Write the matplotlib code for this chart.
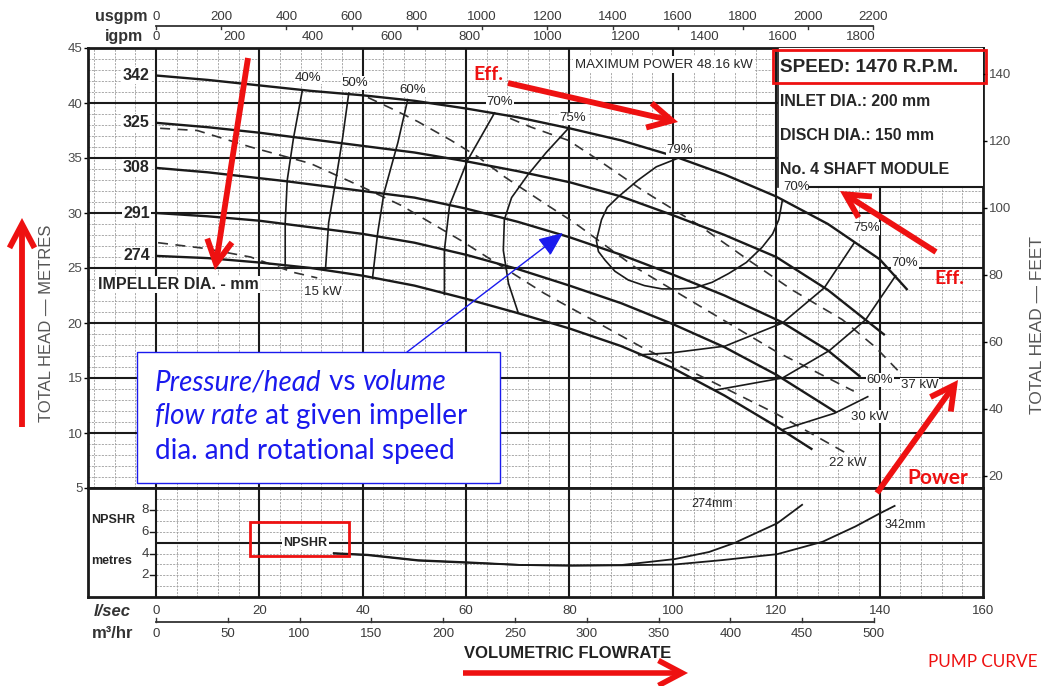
import matplotlib
matplotlib.use("Agg")
import matplotlib.pyplot as plt
from matplotlib.patches import Rectangle, FancyArrowPatch
from matplotlib.transforms import blended_transform_factory

plt.rcParams['font.family'] = ['Liberation Sans', 'DejaVu Sans']

W, H, DPI = 1051, 686, 100

# ---------------- data ----------------
# Head (m) against flow (l/s) for each impeller diameter (mm)
flow_342 = [0, 10, 20, 30, 40, 50, 60, 70, 80, 90, 100, 110, 120, 130, 140, 145.4]
head_342 = [42.5, 42.1, 41.6, 41.1, 40.7, 40.2, 39.5, 38.7, 37.7, 36.6, 35.2, 33.5, 31.5, 29.0, 25.8, 23.0]
flow_325 = [0, 10, 20, 30, 40, 50, 60, 70, 80, 90, 100, 110, 120, 130, 141]
head_325 = [38.2, 37.8, 37.3, 36.7, 36.1, 35.5, 34.7, 33.8, 32.8, 31.5, 29.8, 28.0, 26.0, 23.0, 18.9]
flow_308 = [0, 10, 25, 40, 50, 60, 70, 80, 90, 100, 110, 121, 130, 136.3]
head_308 = [34.1, 33.7, 32.9, 32.0, 31.4, 30.4, 29.2, 27.8, 26.2, 24.4, 22.5, 20.1, 17.5, 15.1]
flow_291 = [0, 10, 20, 30, 40, 50, 60, 70, 80, 90, 100, 110, 120, 131.5]
head_291 = [30.0, 29.7, 29.3, 28.7, 28.1, 27.3, 26.2, 24.9, 23.4, 21.8, 19.9, 17.8, 15.3, 11.9]
flow_274 = [0, 10, 20, 30, 40, 50, 60, 70, 80, 90, 100, 110, 120, 127]
head_274 = [26.1, 25.9, 25.5, 25.0, 24.3, 23.4, 22.2, 20.9, 19.5, 17.9, 15.9, 13.4, 10.6, 8.5]
impellers = ["342", "325", "308", "291", "274"]

# Efficiency contours (flow l/s, head m)
eff40_q = [28.3, 26.6, 25.4, 25.0, 25.0]
eff40_h = [41.1, 36.8, 33.0, 29.1, 25.2]
eff50_q = [37.3, 36.1, 34.8, 33.4, 32.8]
eff50_h = [40.9, 36.8, 33.0, 29.1, 24.9]
eff60_q = [48.7, 46.8, 44.1, 42.9, 41.9]
eff60_h = [40.3, 36.4, 31.8, 28.2, 24.1]
eff70_q = [65.5, 60.3, 56.8, 55.8, 55.8]
eff70_h = [39.1, 34.8, 30.7, 26.6, 22.6]
eff75_q = [79.8, 75.5, 72.0, 68.8, 67.4, 67.2, 68.2, 70.1]
eff75_h = [37.7, 35.5, 33.5, 31.4, 29.4, 26.6, 23.6, 20.9]
eff79_q = [101.1, 96.8, 93.3, 89.5, 87.3, 86.2, 85.2, 85.6, 86.9, 88.8, 91.4, 94.5, 97.9,
           101.2, 104.3, 107.6, 110.8, 114.2, 117.3, 119.3, 120.5, 121.2]
eff79_h = [35.0, 34.2, 33.0, 31.5, 30.5, 29.4, 27.5, 26.5, 25.7, 24.7, 23.9, 23.4, 23.1,
           23.1, 23.2, 23.7, 24.5, 25.5, 26.9, 28.1, 29.4, 31.2]
eff75r_q = [135.1, 129.3, 121.2, 110.1, 100.0, 93.4]
eff75r_h = [27.3, 23.2, 20.0, 17.9, 17.3, 17.1]
eff70r_q = [143.1, 137.3, 130.3, 121.2, 108.2]
eff70r_h = [24.3, 20.3, 17.5, 15.0, 13.9]
eff60r_q = [137.7, 131.3, 121.2]
eff60r_h = [13.3, 11.8, 10.3]

# Constant absorbed-power lines (kW)
kw15_q = [0.4, 9.1, 18.3, 26.6, 31.2]
kw15_h = [27.3, 26.8, 26.0, 24.6, 24.1]
kw22_q = [0.8, 8, 18.3, 29.9, 40.2, 47.4, 59, 75.1, 94, 107, 119.8, 133.4]
kw22_h = [37.7, 37.5, 36.0, 34.5, 32.3, 30.7, 27.5, 22.7, 17.8, 14.8, 11.8, 8.2]
kw30_q = [41, 46, 50.7, 57.1, 62.3, 67.4, 75.1, 81, 86.2, 92.6, 105, 120, 135]
kw30_h = [40.5, 39.4, 38.3, 36.6, 35.1, 33.3, 30.9, 29.1, 27.3, 25.1, 21.6, 17.4, 13.8]
kw37_q = [68.5, 72.6, 79.8, 85, 94, 105, 115, 123.1, 132.8, 139.2, 144.1]
kw37_h = [38.6, 37.8, 36.6, 35.0, 32.1, 28.9, 25.6, 23.0, 20.3, 17.8, 15.4]

# NPSHR (m) against flow (l/s)
npshr274_q = [34.4, 41, 50.7, 60.4, 70.7, 80.4, 90.1, 100.4, 107, 112, 120.2, 125]
npshr274_v = [4.05, 3.9, 3.4, 3.2, 2.95, 2.9, 2.95, 3.5, 4.15, 5.0, 6.8, 8.5]
npshr342_q = [34.4, 41, 50.7, 60.4, 70.7, 80.4, 90.1, 100.4, 109.5, 120.2, 129, 135.3, 140, 142.9]
npshr342_v = [4.0, 3.85, 3.35, 3.15, 2.95, 2.9, 2.92, 3.0, 3.4, 3.95, 5.1, 6.5, 7.7, 8.4]

# Scales
ls_ticks = [0, 20, 40, 60, 80, 100, 120, 140, 160]
usgpm_ticks = [0, 200, 400, 600, 800, 1000, 1200, 1400, 1600, 1800, 2000, 2200]
igpm_ticks = [0, 200, 400, 600, 800, 1000, 1200, 1400, 1600, 1800]
m3h_ticks = [0, 50, 100, 150, 200, 250, 300, 350, 400, 450, 500]
head_m_ticks = [5, 10, 15, 20, 25, 30, 35, 40, 45]
head_ft_ticks = [20, 40, 60, 80, 100, 120, 140]
npshr_ticks = [2, 4, 6, 8]
LS_PER_USGPM = 1 / 15.850
LS_PER_IGPM = 1 / 13.198
LS_PER_M3H = 1 / 3.6
FT_PER_M = 1 / 0.3048

INK = '#1a1a1a'
GRID_MINOR = '#9c9c9c'
TXT = '#262626'
TICK = '#3a3a3a'
TFS = 9.5

fig = plt.figure(figsize=(W / DPI, H / DPI), dpi=DPI)
fig.patch.set_facecolor('white')


def fx(px):
    return px / W


def fy(py):
    return 1 - py / H


X0, X1 = 88, 983
Y_TOP, Y_MID, Y_BOT = 48, 488, 597
Q0, Q1 = -13.15, 160

ax = fig.add_axes([fx(X0), fy(Y_MID), (X1 - X0) / W, (Y_MID - Y_TOP) / H])
axn = fig.add_axes([fx(X0), fy(Y_BOT), (X1 - X0) / W, (Y_BOT - Y_MID) / H])
ax.set_xlim(Q0, Q1)
ax.set_ylim(5, 45)
axn.set_xlim(Q0, Q1)
axn.set_ylim(0, 10.05)

for a in (ax, axn):
    for s in a.spines.values():
        s.set_linewidth(2.0)
        s.set_color(INK)
    a.set_facecolor('white')

DASH = (0, (2.5, 1.5))
# ---- head panel grid ----
minor_q = [q for q in range(-12, 160, 4) if q % 20 != 0]
ax.vlines(minor_q, 5, 45, colors=GRID_MINOR, lw=0.6, linestyles=DASH, zorder=1)
ax.vlines(ls_ticks[:-1], 5, 45, colors=INK, lw=1.5, zorder=1.5)
ax.hlines([h for h in range(6, 45) if h % 5], Q0, Q1, colors=GRID_MINOR, lw=0.6,
          linestyles=DASH, zorder=1)
ax.hlines(head_m_ticks[1:-1], Q0, Q1, colors=INK, lw=1.5, zorder=1.5)

# ---- NPSHR panel grid ----
axn.vlines([q for q in range(4, 160, 4) if q % 20 != 0], 0, 10.05, colors=GRID_MINOR, lw=0.6,
           linestyles=DASH, zorder=1)
axn.vlines(ls_ticks[:-1], 0, 10.05, colors=INK, lw=1.5, zorder=1.5)
axn.hlines([1, 2, 3, 4, 6, 7, 8, 9], 0, 160, colors=GRID_MINOR, lw=0.6,
           linestyles=DASH, zorder=1)
axn.hlines([5], 0, 160, colors=INK, lw=1.5, zorder=1.5)

# ---- head curves ----
curves = [(flow_342, head_342), (flow_325, head_325), (flow_308, head_308),
          (flow_291, head_291), (flow_274, head_274)]
for q, h in curves:
    ax.plot(q, h, color=INK, lw=1.7, zorder=4, solid_capstyle='butt')

for q, h in [(eff40_q, eff40_h), (eff50_q, eff50_h), (eff60_q, eff60_h), (eff70_q, eff70_h),
             (eff75_q, eff75_h), (eff79_q, eff79_h), (eff75r_q, eff75r_h),
             (eff70r_q, eff70r_h), (eff60r_q, eff60r_h)]:
    ax.plot(q, h, color=INK, lw=1.2, zorder=3.5)

for q, h in [(kw15_q, kw15_h), (kw22_q, kw22_h), (kw30_q, kw30_h), (kw37_q, kw37_h)]:
    ax.plot(q, h, color='#333333', lw=1.2, ls=(0, (6, 4.5)), zorder=3)

# impeller diameter labels at the start of each curve
white = dict(facecolor='white', edgecolor='none', pad=1.0)
for name, (q, h) in zip(impellers, curves):
    ax.text(-1.2, h[0], name, ha='right', va='center', fontsize=11.5, fontweight='bold',
            color=TXT, bbox=white, zorder=6)
ax.text(-11.3, 23.5, "IMPELLER DIA. - mm", ha='left', va='center', fontsize=11.5,
        fontweight='bold', color=TXT, bbox=white, zorder=6)

small = dict(fontsize=9.5, color=TXT, ha='center', va='center', zorder=6)
for txt, q, h in [("40%", 29.4, 42.3), ("50%", 38.5, 41.8), ("60%", 49.7, 41.2),
                  ("70%", 66.5, 40.1), ("75%", 80.7, 38.6), ("79%", 101.4, 35.7),
                  ("75%", 137.4, 28.6), ("70%", 144.9, 25.5), ("60%", 140.1, 14.8),
                  ("37 kW", 147.8, 14.4), ("30 kW", 138.1, 11.5), ("22 kW", 133.9, 7.3),
                  ("15 kW", 32.3, 22.8)]:
    ax.text(q, h, txt, bbox=dict(facecolor='white', edgecolor='none', pad=0.6), **small)

ax.text(81.1, 43.5, "MAXIMUM POWER 48.16 kW", ha='left', va='center', fontsize=9.5,
        color=TXT, bbox=dict(facecolor='white', edgecolor='none', pad=1.5), zorder=6)

# data sheet box in the upper right
ax.add_patch(Rectangle((120.3, 32.4), Q1 - 120.3, 45 - 32.4, facecolor='white',
                       edgecolor='none', zorder=5))
ax.plot([120.3, 120.3], [32.4, 45], color=INK, lw=1.2, zorder=5.5)
ax.plot([126.5, Q1], [32.4, 32.4], color=INK, lw=1.5, zorder=5.5)
ax.text(124.0, 32.4, "70%", **small)
for txt, py, fs in [("SPEED: 1470 R.P.M.", 68, 13.6), ("INLET DIA.: 200 mm", 101, 11.4),
                    ("DISCH DIA.: 150 mm", 136, 11.4), ("No. 4 SHAFT MODULE", 170, 11.4)]:
    ax.text(fx(780), fy(py), txt, transform=fig.transFigure, ha='left', va='center',
            fontsize=fs, fontweight='bold', color=TXT, zorder=7)

# ---- NPSHR curves ----
axn.plot(npshr274_q, npshr274_v, color=INK, lw=1.3, zorder=4)
axn.plot(npshr342_q, npshr342_v, color=INK, lw=1.3, zorder=4)
axn.text(107.5, 8.55, "274mm", fontsize=9, color=TXT, ha='center', va='center', zorder=6)
axn.text(145.0, 6.6, "342mm", fontsize=9, color=TXT, ha='center', va='center',
         bbox=dict(facecolor='white', edgecolor='none', pad=0.6), zorder=6)
axn.text(28.9, 5.0, "NPSHR", fontsize=9, fontweight='bold', color=TXT, ha='center',
         va='center', bbox=dict(facecolor='white', edgecolor='none', pad=1.0), zorder=6)
axn.text(-8.3, 7.1, "NPSHR", fontsize=9, fontweight='bold', color=TXT, ha='center', va='center')
axn.text(-8.5, 3.3, "metres", fontsize=9, fontweight='bold', color=TXT, ha='center', va='center')
for v in npshr_ticks:
    axn.text(-1.4, v, str(v), fontsize=TFS, color=TICK, ha='right', va='center')
    axn.plot([-1.1, 0], [v, v], color=INK, lw=1.0, clip_on=False)

# ---- axes ticks ----
ax.set_xticks([])
ax.set_yticks(head_m_ticks)
ax.tick_params(axis='y', direction='out', length=3, width=1, labelsize=TFS,
               labelcolor='#4a4a4a', pad=1)
axn.set_yticks([])
axn.set_xticks(ls_ticks)
axn.tick_params(axis='x', length=0, labelsize=TFS, labelcolor=TICK, pad=6)

ax2 = ax.twinx()
ax2.set_ylim(5 * FT_PER_M, 45 * FT_PER_M)
ax2.set_yticks(head_ft_ticks)
ax2.tick_params(axis='y', direction='out', length=3, width=1, labelsize=TFS,
                labelcolor='#4a4a4a', pad=1)
for s in ax2.spines.values():
    s.set_visible(False)

# flow scales above the chart
top = blended_transform_factory(ax.transData, fig.transFigure)
ax.plot([0, usgpm_ticks[-1] * LS_PER_USGPM], [fy(25.5)] * 2, transform=top, clip_on=False,
        color='#333333', lw=1.3)
for u in usgpm_ticks:
    q = u * LS_PER_USGPM
    ax.plot([q, q], [fy(25.5), fy(29)], transform=top, clip_on=False, color='#333333', lw=1.0)
    ax.text(q, fy(17), str(u), transform=top, ha='center', va='center', fontsize=TFS,
            color=TICK)
for g in igpm_ticks:
    ax.text(g * LS_PER_IGPM, fy(36.5), str(g), transform=top, ha='center', va='center',
            fontsize=TFS, color=TICK)
fig.text(fx(147), fy(17), "usgpm", ha='right', va='center', fontsize=11.5, fontweight='bold',
         color='#333333')
fig.text(fx(143), fy(36), "igpm", ha='right', va='center', fontsize=11.5, fontweight='bold',
         color='#333333')

# flow scales below the chart
bot = blended_transform_factory(axn.transData, fig.transFigure)
axn.plot([0, m3h_ticks[-1] * LS_PER_M3H], [fy(621.5)] * 2, transform=bot, clip_on=False,
         color='#333333', lw=1.3)
for m in m3h_ticks:
    q = m * LS_PER_M3H
    axn.plot([q, q], [fy(621.5), fy(618)], transform=bot, clip_on=False, color='#333333', lw=1.0)
    axn.text(q, fy(634), str(m), transform=bot, ha='center', va='center', fontsize=TFS,
             color=TICK)
fig.text(fx(94), fy(612), "l/sec", ha='left', va='center', fontsize=12, fontweight='bold',
         style='italic', color='#333333')
fig.text(fx(92), fy(634), "m\u00b3/hr", ha='left', va='center', fontsize=12,
         fontweight='bold', color='#333333')
fig.text(fx(568), fy(653), "VOLUMETRIC FLOWRATE", ha='center', va='center', fontsize=12,
         fontweight='bold', color='#222222')

fig.text(fx(47), fy(323), "TOTAL HEAD \u2014 METRES", rotation=90, ha='center', va='center',
         fontsize=12, color='#555555')
fig.text(fx(1037), fy(325), "TOTAL HEAD \u2014 FEET", rotation=90, ha='center', va='center',
         fontsize=12.5, color='#555555')

# ---- explanatory overlay ----
RED = '#ee1111'
ANN = ['Lato', 'DejaVu Sans']


def red_arrow(p0, p1, lw=4.2, hl=0.85, hw=0.45):
    fig.patches.append(FancyArrowPatch(
        (fx(p0[0]), fy(p0[1])), (fx(p1[0]), fy(p1[1])), transform=fig.transFigure,
        arrowstyle=f'->,head_length={hl},head_width={hw}', mutation_scale=20,
        shrinkA=0, shrinkB=0, color=RED, lw=lw, joinstyle='miter', capstyle='butt',
        zorder=10))


red_arrow((22, 427), (22, 218))
red_arrow((248, 58), (215, 270))
red_arrow((508, 83), (678, 122))
red_arrow((936, 252), (840, 191))
red_arrow((877, 493), (958, 380))
red_arrow((463, 673), (688, 673), lw=4.0)

fig.text(fx(473), fy(75), "Eff.", color=RED, fontsize=14, fontweight='bold', family=ANN,
         ha='left', va='center')
fig.text(fx(934), fy(279), "Eff.", color=RED, fontsize=14, fontweight='bold', family=ANN,
         ha='left', va='center')
fig.text(fx(907), fy(478), "Power", color=RED, fontsize=15, fontweight='bold', family=ANN,
         ha='left', va='center')
fig.text(fx(983), fy(662), "PUMP CURVE", color=RED, fontsize=12.3, family=ANN,
         ha='center', va='center')

for (x0, y0, x1, y1) in [(773, 50, 986, 83), (250, 522, 349, 556)]:
    fig.patches.append(Rectangle((fx(x0), fy(y1)), fx(x1) - fx(x0), fy(y0) - fy(y1),
                                 transform=fig.transFigure, fill=False, edgecolor=RED,
                                 lw=2.0, zorder=10))

# blue note box with its pointer
BLUE = '#1a1aee'
ax.add_patch(Rectangle((fx(137), fy(483)), fx(500) - fx(137), fy(352) - fy(483),
                       transform=fig.transFigure, facecolor='white', edgecolor=BLUE,
                       lw=1.0, zorder=20, clip_on=False))
ax.add_patch(FancyArrowPatch((fx(407), fy(352)), (fx(563), fy(233)), transform=fig.transFigure,
                             arrowstyle='-|>,head_length=0.75,head_width=0.32',
                             mutation_scale=20, shrinkA=0, shrinkB=0, color=BLUE, lw=1.0,
                             zorder=20, clip_on=False))

note = dict(fontsize=20, color=BLUE, family=ANN, zorder=21)
lines = [[("Pressure/head", 'italic'), (" vs ", 'normal'), ("volume", 'italic')],
         [("flow rate", 'italic'), (" at given impeller", 'normal')],
         [("dia. and rotational speed", 'normal')]]
for py, parts in zip([390, 424, 459], lines):
    prev = ax.text(fx(155), fy(py), parts[0][0], style=parts[0][1], transform=fig.transFigure,
                   ha='left', va='baseline', **note)
    for txt, st in parts[1:]:
        prev = ax.annotate(txt, xy=(1, 0), xycoords=prev, ha='left', va='bottom', style=st,
                           annotation_clip=False, **note)

fig.savefig("out.png", dpi=DPI, facecolor='white')
